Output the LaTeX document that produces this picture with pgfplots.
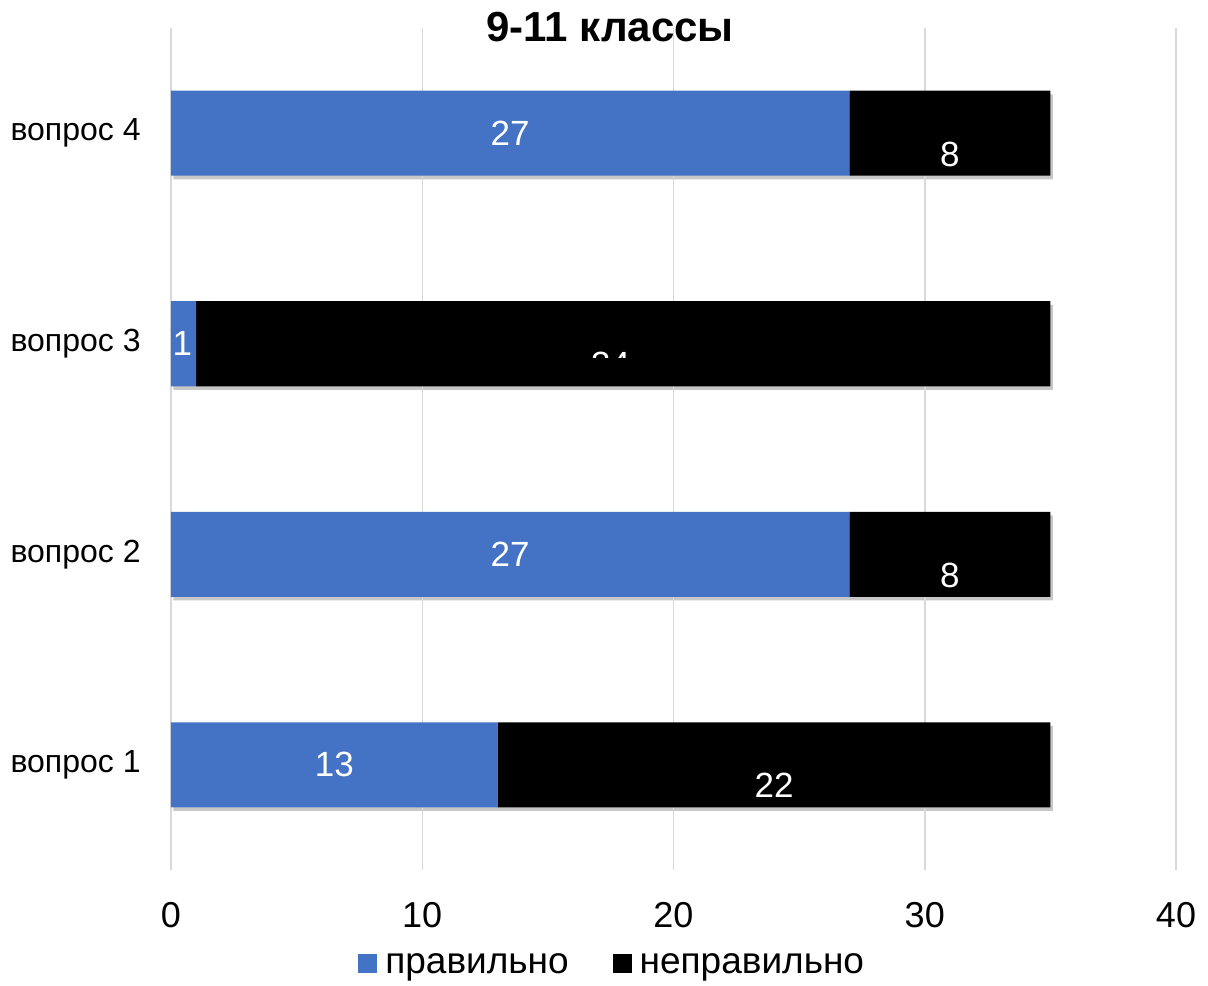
\documentclass[border=0pt]{standalone}
\usepackage{fontspec}
\setmainfont{Liberation Sans}
\usepackage{pgfplots}
\pgfplotsset{compat=1.18}
\definecolor{barblue}{HTML}{4472C4}
\definecolor{gridgray}{HTML}{D9D9D9}

\pgfplotsset{
  frame/.style={scale only axis, width=502.5pt, height=421pt,
    xmin=0, xmax=40, ymin=0.5, ymax=4.5, enlargelimits=false},
}

\begin{document}
\begin{tikzpicture}
\path[use as bounding box] (-85.5pt,-57.5pt) rectangle (518.5pt,435pt);
% soft shadow behind the bars (totals, offset)
\begin{axis}[frame, hide axis, xbar, bar width=42.5pt, xshift=1.2pt, yshift=-1.8pt]
\addplot[fill=black!22, draw=none] coordinates {(35,1) (35,2) (35,3) (35,4)};
\end{axis}
\begin{axis}[
  frame,
  xbar stacked,
  bar width=42.5pt,
  xtick={0,10,20,30,40},
  ytick={1,2,3,4},
  yticklabels={вопрос 1,вопрос 2,вопрос 3,вопрос 4},
  axis line style={draw=none},
  major tick length=0pt,
  xmajorgrids=true,
  major grid style={gridgray, line width=0.75pt},
  /pgf/number format/assume math mode=true,
  xticklabel style={font=\fontsize{18}{20}\selectfont, inner sep=0pt, anchor=north, yshift=-16pt},
  yticklabel style={font=\fontsize{16}{18}\selectfont, inner sep=0pt, anchor=east, xshift=-15pt},
  legend style={draw=none, at={(0.44,-0.113)}, anchor=center,
    legend columns=2, font=\fontsize{18.5}{20}\selectfont,
    nodes={inner sep=2pt},
    /tikz/every even column/.append style={column sep=20pt}},
  legend image code/.code={\fill[#1] (0pt,-3.8pt) rectangle (9.5pt,5.7pt); \path (11.5pt,0pt);},
]
\addplot[fill=barblue, draw=none] coordinates {(13,1) (27,2) (1,3) (27,4)};
\addlegendentry{правильно}
\addplot[fill=black, draw=none] coordinates {(22,1) (8,2) (34,3) (8,4)};
\addlegendentry{неправильно}

\coordinate (a1) at (axis cs:6.5,1);
\coordinate (a2) at (axis cs:13.5,2);
\coordinate (a3) at (axis cs:0.45,3);
\coordinate (a4) at (axis cs:13.5,4);
\coordinate (b1) at (axis cs:24,1);
\coordinate (b2) at (axis cs:31,2);
\coordinate (b3) at (axis cs:17.5,3);
\coordinate (b4) at (axis cs:31,4);
\end{axis}
\begin{scope}[every node/.style={white, font=\fontsize{17.5}{19}\selectfont}]
\node at (a1) {13};
\node at (a2) {27};
\node at (a3) {1};
\node at (a4) {27};
\node[yshift=-10.5pt] at (b1) {22};
\node[yshift=-10.5pt] at (b2) {8};
\node[yshift=-10.5pt] at (b4) {8};
\clip ([xshift=-60pt,yshift=-7pt]b3) rectangle ([xshift=60pt,yshift=20pt]b3);
\node[yshift=-10.5pt] at (b3) {34};
\end{scope}
\node[font=\bfseries\fontsize{21}{24}\selectfont, anchor=base] at (219.5pt,414pt) {9-11 классы};
\end{tikzpicture}
\end{document}
